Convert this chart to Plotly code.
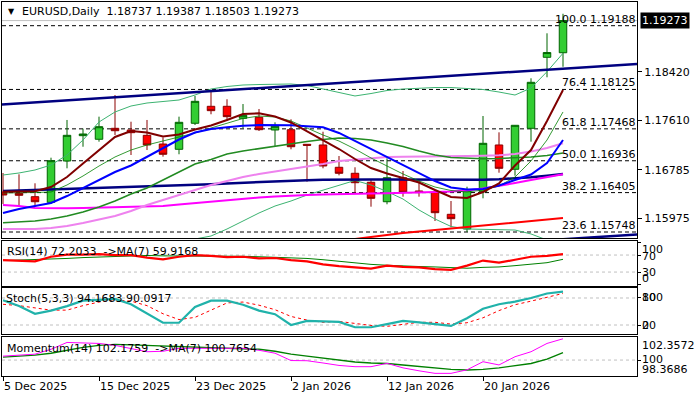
import plotly.graph_objects as go

# ---------------- data ----------------
dates = ["2025-12-05", "2025-12-08", "2025-12-09", "2025-12-10", "2025-12-11", "2025-12-12",
         "2025-12-15", "2025-12-16", "2025-12-17", "2025-12-18", "2025-12-19", "2025-12-22",
         "2025-12-23", "2025-12-24", "2025-12-26", "2025-12-29", "2025-12-30", "2025-12-31",
         "2026-01-02", "2026-01-05", "2026-01-06", "2026-01-07", "2026-01-08", "2026-01-09",
         "2026-01-12", "2026-01-13", "2026-01-14", "2026-01-15", "2026-01-16", "2026-01-19",
         "2026-01-20", "2026-01-21", "2026-01-22", "2026-01-23", "2026-01-26", "2026-01-27"]

opens = [1.16415, 1.16393, 1.16337, 1.16243, 1.16932, 1.17354, 1.17294, 1.17477, 1.17449, 1.17360,
         1.17215, 1.17127, 1.17561, 1.17844, 1.17844, 1.17644, 1.17661, 1.17449, 1.17454, 1.17210,
         1.17199, 1.16827, 1.16727, 1.16577, 1.16253, 1.16653, 1.16432, 1.16410, 1.16043, 1.15798,
         1.16420, 1.17199, 1.16794, 1.17477, 1.18661, 1.18737]
highs = [1.16732, 1.16710, 1.16560, 1.16987, 1.17616, 1.17471, 1.17671, 1.18032, 1.17587, 1.17616,
         1.17324, 1.17671, 1.18016, 1.18087, 1.17961, 1.17882, 1.17799, 1.17577, 1.17627, 1.17215,
         1.17420, 1.17015, 1.16827, 1.16627, 1.16977, 1.16765, 1.16615, 1.16460, 1.16265, 1.16503,
         1.17682, 1.17410, 1.17532, 1.18311, 1.19061, 1.19387]
lows = [1.16215, 1.16170, 1.16170, 1.16215, 1.16810, 1.17170, 1.17254, 1.17365, 1.17032, 1.17115,
        1.17004, 1.17044, 1.17532, 1.17711, 1.17599, 1.17477, 1.17432, 1.17182, 1.17127, 1.16587,
        1.16810, 1.16693, 1.16403, 1.16170, 1.16210, 1.16337, 1.16337, 1.15931, 1.15826, 1.15748,
        1.16310, 1.16737, 1.16687, 1.17254, 1.18328, 1.18503]
closes = [1.16365, 1.16360, 1.16253, 1.16937, 1.17360, 1.17382, 1.17504, 1.17437, 1.17404, 1.17199,
          1.17044, 1.17577, 1.17927, 1.17771, 1.17671, 1.17694, 1.17454, 1.17511, 1.17170, 1.17194,
          1.16849, 1.16727, 1.16570, 1.16310, 1.16653, 1.16410, 1.16415, 1.16070, 1.15970, 1.16448,
          1.17227, 1.16810, 1.17527, 1.18244, 1.18740, 1.19273]

ma_maroon = [1.16420, 1.16423, 1.16428, 1.16498, 1.16665, 1.16890, 1.17115, 1.17332, 1.17432, 1.17407,
             1.17340, 1.17374, 1.17457, 1.17524, 1.17616, 1.17716, 1.17727, 1.17674, 1.17574, 1.17424,
             1.17282, 1.17132, 1.16965, 1.16815, 1.16723, 1.16648, 1.16573, 1.16448, 1.16332, 1.16315,
             1.16415, 1.16557, 1.16857, 1.17115, 1.17599, 1.18116]
ma_blue = [1.16065, 1.16131, 1.16181, 1.16232, 1.16348, 1.16482, 1.16615, 1.16748, 1.16857, 1.16999,
           1.17149, 1.17290, 1.17407, 1.17465, 1.17494, 1.17520, 1.17532, 1.17532, 1.17527, 1.17511,
           1.17494, 1.17399, 1.17265, 1.17132, 1.16999, 1.16865, 1.16732, 1.16598, 1.16490, 1.16457,
           1.16465, 1.16523, 1.16615, 1.16707, 1.16899, 1.17282]
ma_green = [1.15903, 1.15915, 1.15931, 1.15965, 1.16015, 1.16081, 1.16165, 1.16265, 1.16382, 1.16482,
            1.16615, 1.16748, 1.16882, 1.16957, 1.17049, 1.17099, 1.17140, 1.17182, 1.17224, 1.17257,
            1.17290, 1.17315, 1.17307, 1.17282, 1.17232, 1.17174, 1.17099, 1.17032, 1.16990, 1.16974,
            1.16970, 1.16974, 1.16982, 1.16999, 1.17024, 1.17065]
ma_thin_green = [1.16398, 1.16398, 1.16407, 1.16415, 1.16532, 1.16682, 1.16848, 1.16999, 1.17115, 1.17199,
                 1.17265, 1.17332, 1.17399, 1.17482, 1.17566, 1.17641, 1.17682, 1.17666, 1.17599, 1.17482,
                 1.17365, 1.17265, 1.17132, 1.16982, 1.16848, 1.16715, 1.16598, 1.16498, 1.16440, 1.16415,
                 1.16448, 1.16515, 1.16665, 1.16932, 1.17282, 1.17749]
ma_pink = [1.15798, 1.15798, 1.15798, 1.15815, 1.15848, 1.15898, 1.15956, 1.16015, 1.16098, 1.16198,
           1.16282, 1.16365, 1.16448, 1.16532, 1.16598, 1.16665, 1.16715, 1.16757, 1.16798, 1.16832,
           1.16882, 1.16932, 1.16957, 1.16982, 1.16999, 1.17004, 1.17004, 1.17004, 1.17007, 1.17015,
           1.17018, 1.17027, 1.17049, 1.17090, 1.17149, 1.17227]
ma_magenta = [1.16198, 1.16181, 1.16148, 1.16143, 1.16143, 1.16148, 1.16156, 1.16165, 1.16168, 1.16173,
              1.16181, 1.16207, 1.16232, 1.16257, 1.16282, 1.16303, 1.16323, 1.16340, 1.16357, 1.16365,
              1.16373, 1.16382, 1.16385, 1.16390, 1.16395, 1.16398, 1.16407, 1.16415, 1.16423, 1.16440,
              1.16473, 1.16515, 1.16565, 1.16615, 1.16665, 1.16710]
ma_navy = [1.16432, 1.16440, 1.16448, 1.16457, 1.16465, 1.16473, 1.16482, 1.16488, 1.16495, 1.16502,
           1.16510, 1.16522, 1.16532, 1.16545, 1.16557, 1.16570, 1.16582, 1.16593, 1.16603, 1.16612,
           1.16618, 1.16623, 1.16625, 1.16625, 1.16625, 1.16623, 1.16623, 1.16622, 1.16620, 1.16618,
           1.16620, 1.16627, 1.16640, 1.16660, 1.16685, 1.16715]
ma_red = [None] * 20 + [1.15565, 1.15598, 1.15631, 1.15673, 1.15706, 1.15731, 1.15756, 1.15781,
                        1.15806, 1.15831, 1.15856, 1.15881, 1.15906, 1.15931, 1.15956, 1.15981]
bb_upper = [1.16698, 1.16732, 1.16782, 1.16865, 1.17032, 1.17282, 1.17582, 1.17749, 1.17849, 1.17899,
            1.17924, 1.17949, 1.18032, 1.18132, 1.18174, 1.18199, 1.18207, 1.18216, 1.18216, 1.18191,
            1.18132, 1.18066, 1.18016, 1.18057, 1.18107, 1.18132, 1.18149, 1.18157, 1.18157, 1.18144,
            1.18124, 1.18082, 1.18032, 1.18149, 1.18421, 1.18728]
bb_lower = [None] * 11 + [1.15448, 1.15631, 1.15681, 1.15798, 1.15931, 1.16065, 1.16181, 1.16265, 1.16365,
                          1.16448, 1.16532, 1.16607, 1.16532, 1.16423, 1.16298, 1.16115, 1.15965, 1.15840,
                          1.15798, 1.15793, 1.15790, 1.15781, 1.15715, 1.15615, 1.15514]

fib_levels = [100.0, 76.4, 61.8, 50.0, 38.2, 23.6]
fib_prices = [1.19188, 1.18125, 1.17468, 1.16936, 1.16405, 1.15748]

trend_upper_bar = [-0.0625, 39.625]
trend_upper_price = [1.17874, 1.18549]
trend_lower_bar = [30.0, 39.625]
trend_lower_price = [1.15542, 1.15706]

rsi = [58, 57, 55, 66, 71, 71, 72, 70, 70, 64, 60, 66, 70, 68, 65, 66, 62, 63, 58, 55,
       48, 44, 41, 38, 45, 42, 41, 37, 35, 45, 57, 52, 59, 66, 68, 72.2033]
rsi_ma = [57, 58, 59, 61, 62, 64, 65, 67, 68, 69, 68, 68, 68, 68, 67, 67, 66, 65, 64, 62,
          59, 55, 52, 48, 46, 44, 43, 42, 40, 39, 41, 42, 45, 48, 52, 59.9168]
stoch_k = [75, 62, 45, 52, 62, 74, 76, 78, 66, 45, 25, 25, 60, 74, 74, 65, 52, 44, 20, 29,
           28, 27, 15, 15, 22, 29, 26, 22, 18, 35, 56, 66, 72, 80, 90, 94.1683]
stoch_d = [66, 63, 58, 53, 53, 63, 71, 76, 73, 63, 45, 32, 37, 53, 69, 71, 64, 54, 39, 31,
           26, 28, 23, 19, 17, 22, 26, 26, 22, 25, 36, 52, 65, 73, 81, 90.0917]
mom = [100.4, 100.5, 100.6, 101.1, 101.8, 101.75, 101.7, 101.5, 101.2, 100.85, 100.9, 101.2,
       101.2, 101.2, 101.2, 101.2, 101.0, 100.7, 99.95, 99.93, 99.7, 99.45, 99.32, 99.32,
       99.66, 99.2, 98.9, 98.64, 98.64, 99.0, 99.83, 99.5, 100.34, 100.85, 101.7, 102.1759]
mom_ma = [100.3, 100.4, 100.5, 100.7, 101.0, 101.3, 101.5, 101.6, 101.55, 101.5, 101.4, 101.35,
          101.3, 101.25, 101.2, 101.2, 101.1, 100.9, 100.6, 100.4, 100.2, 100.0, 99.8, 99.7,
          99.65, 99.5, 99.35, 99.2, 99.05, 98.98, 99.05, 99.2, 99.4, 99.65, 100.1, 100.7654]

price_ticks = [1.18420, 1.17610, 1.16785, 1.15975]
xtick_bars = [0, 6, 12, 18, 24, 30]
xtick_text = ["5 Dec 2025", "15 Dec 2025", "23 Dec 2025", "2 Jan 2026", "12 Jan 2026", "20 Jan 2026"]

rsi_levels = [70, 30]
stoch_levels = [80, 20]
mom_level = [100]
mom_range = [98.3686, 102.3572]

header = "EURUSD,Daily  1.18737 1.19387 1.18503 1.19273"
rsi_label = "RSI(14) 72.2033  ->MA(7) 59.9168"
stoch_label = "Stoch(5,3,3) 94.1683 90.0917"
mom_label = "Momentum(14) 102.1759  ->MA(7) 100.7654"

# ---------------- layout helpers ----------------
W, H = 700, 400
PL, PR, PT, PB = 2, 637, 2, 376
FONT = "DejaVu Sans"


def py(p):
    return (PB - p) / (PB - PT)


def px(p):
    return (p - PL) / (PR - PL)


x = list(range(len(dates)))
XR = [-0.0625, 39.625]

fig = go.Figure()


def line(yv, color, width, yaxis="y", xaxis="x", dash=None):
    fig.add_trace(go.Scatter(x=x, y=yv, mode="lines", xaxis=xaxis, yaxis=yaxis,
                             line=dict(color=color, width=width, dash=dash),
                             hoverinfo="skip", showlegend=False, connectgaps=False))


# main panel overlays
line(bb_upper, "#3CB371", 1)
line(bb_lower, "#3CB371", 1)
line(ma_red, "#FF0000", 2)
line(ma_navy, "#000080", 2.5)
line(ma_magenta, "#FF00FF", 2)
line(ma_pink, "#EE82EE", 2)
line(ma_green, "#228B22", 1.6)
line(ma_thin_green, "#008000", 0.8)
line(ma_blue, "#0000FF", 2)
line(ma_maroon, "#800000", 2)

fig.add_trace(go.Scatter(x=trend_upper_bar, y=trend_upper_price, mode="lines",
                         line=dict(color="#000080", width=2.5), hoverinfo="skip", showlegend=False))
fig.add_trace(go.Scatter(x=trend_lower_bar, y=trend_lower_price, mode="lines",
                         line=dict(color="#000080", width=2.5), hoverinfo="skip", showlegend=False))

fig.add_trace(go.Candlestick(
    x=x, open=opens, high=highs, low=lows, close=closes,
    increasing=dict(line=dict(color="#006400", width=1), fillcolor="#32CD32"),
    decreasing=dict(line=dict(color="#8B0000", width=1), fillcolor="#FF0000"),
    whiskerwidth=0, showlegend=False, hoverinfo="skip"))

# RSI
line(rsi_ma, "#008000", 1, yaxis="y2", xaxis="x2")
line(rsi, "#FF0000", 2.2, yaxis="y2", xaxis="x2")
# Stochastic
line(stoch_d, "#FF0000", 1, yaxis="y3", xaxis="x3", dash="dot")
line(stoch_k, "#20B2AA", 2.2, yaxis="y3", xaxis="x3")
# Momentum
line(mom_ma, "#008000", 1.4, yaxis="y4", xaxis="x4")
line(mom, "#FF00FF", 1, yaxis="y4", xaxis="x4")

shapes = []
for p in fib_prices:
    shapes.append(dict(type="line", xref="x domain", yref="y", x0=0, x1=1, y0=p, y1=p,
                       line=dict(color="black", width=1, dash="4px,3px"), layer="below"))
shapes.append(dict(type="line", xref="x domain", yref="y", x0=0, x1=1, y0=closes[-1], y1=closes[-1],
                   line=dict(color="#C0C0C0", width=1), layer="below"))
for lv in rsi_levels:
    shapes.append(dict(type="line", xref="x2 domain", yref="y2", x0=0, x1=1, y0=lv, y1=lv,
                       line=dict(color="#C0C0C0", width=1, dash="3px,3px"), layer="below"))
for lv in stoch_levels:
    shapes.append(dict(type="line", xref="x3 domain", yref="y3", x0=0, x1=1, y0=lv, y1=lv,
                       line=dict(color="#C0C0C0", width=1, dash="3px,3px"), layer="below"))
for lv in mom_level:
    shapes.append(dict(type="line", xref="x4 domain", yref="y4", x0=0, x1=1, y0=lv, y1=lv,
                       line=dict(color="#C0C0C0", width=1, dash="3px,3px"), layer="below"))

ann = []
f11 = dict(family=FONT, size=11, color="black")
for lv, p in zip(fib_levels, fib_prices):
    ann.append(dict(xref="paper", yref="y", x=1, y=p, xanchor="right", yanchor="bottom",
                    text=f"{lv:.1f} {p:.5f}", showarrow=False, font=f11, xshift=-1, yshift=-1,
                    borderpad=0))
ann.append(dict(xref="paper", yref="y", x=1, y=closes[-1], xanchor="left", yanchor="middle",
                text=f"{closes[-1]:.5f}", showarrow=False, bgcolor="black",
                font=dict(family=FONT, size=11, color="white"), xshift=3, borderpad=1))
ann.append(dict(xref="paper", yref="paper", x=px(11), y=py(12), xanchor="center", yanchor="middle",
                text="▼", showarrow=False, font=dict(family="DejaVu Sans", size=8, color="black")))
ann.append(dict(xref="paper", yref="paper", x=px(20), y=py(12), xanchor="left", yanchor="middle",
                text=header, showarrow=False, font=f11))
ann.append(dict(xref="paper", yref="paper", x=px(5), y=py(251), xanchor="left", yanchor="middle",
                text=rsi_label, showarrow=False, font=f11))
ann.append(dict(xref="paper", yref="paper", x=px(4), y=py(298), xanchor="left", yanchor="middle",
                text=stoch_label, showarrow=False, font=f11))
ann.append(dict(xref="paper", yref="paper", x=px(5), y=py(348), xanchor="left", yanchor="middle",
                text=mom_label, showarrow=False, font=f11))


def rlabel(yref, val, text, shift):
    ann.append(dict(xref="paper", yref=yref, x=1, y=val, xanchor="left", yanchor="middle",
                    text=text, showarrow=False, font=f11, xshift=4, yshift=shift, borderpad=0))


rlabel("y2", 100, "100", -7)
rlabel("y2", 70, "70", -1)
rlabel("y2", 30, "30", 0)
rlabel("y2", 0, "0", 6)
rlabel("y3", 100, "100", -9)
rlabel("y3", 80, "80", 0)
rlabel("y3", 20, "20", 0)
rlabel("y3", 0, "0", 9)
rlabel("y4", mom_range[1], f"{mom_range[1]:.4f}", -8)
rlabel("y4", 100, "100", 1)
rlabel("y4", mom_range[0], f"{mom_range[0]:.4f}", 7)

axbase = dict(showline=True, mirror=True, linecolor="black", linewidth=1, showgrid=False,
              zeroline=False, automargin=False)
xcommon = dict(axbase, range=XR, showticklabels=False, ticks="")

fig.update_layout(
    template="none",
    width=W, height=H, margin=dict(l=PL, r=W - PR, t=PT, b=H - PB, pad=0, autoexpand=False),
    paper_bgcolor="white", plot_bgcolor="white", showlegend=False, boxgap=0.33,
    font=f11,
    xaxis=dict(xcommon, anchor="y", rangeslider=dict(visible=False)),
    xaxis2=dict(xcommon, anchor="y2", matches="x"),
    xaxis3=dict(xcommon, anchor="y3", matches="x"),
    xaxis4=dict(axbase, anchor="y4", matches="x", range=XR, tickvals=xtick_bars, ticktext=xtick_text,
                ticks="outside", ticklen=4, tickcolor="black", tickfont=f11,
                ticklabelposition="outside right"),
    yaxis=dict(axbase, domain=[py(238), 1], range=[1.15648, 1.19583], side="right", anchor="x",
               tickvals=price_ticks, ticktext=[f"{v:.5f}" for v in price_ticks],
               ticks="outside", ticklen=4, tickcolor="black", tickfont=f11),
    yaxis2=dict(axbase, domain=[py(286), py(241)], range=[-2.8, 103], side="right", anchor="x2",
                tickvals=[100, 70, 30, 0], ticks="outside", ticklen=3, tickcolor="black",
                showticklabels=False),
    yaxis3=dict(axbase, domain=[py(334), py(288)], range=[0, 102.2], side="right", anchor="x3",
                tickvals=[80, 20], ticks="outside", ticklen=3, tickcolor="black",
                showticklabels=False),
    yaxis4=dict(axbase, domain=[0, py(337)], range=mom_range, side="right", anchor="x4",
                tickvals=[100], ticks="outside", ticklen=3, tickcolor="black",
                showticklabels=False),
    shapes=shapes, annotations=ann,
)

fig.write_html("out.html", config={"displayModeBar": False},
               post_script="document.body.style.margin='0';document.body.style.overflow='hidden';")
